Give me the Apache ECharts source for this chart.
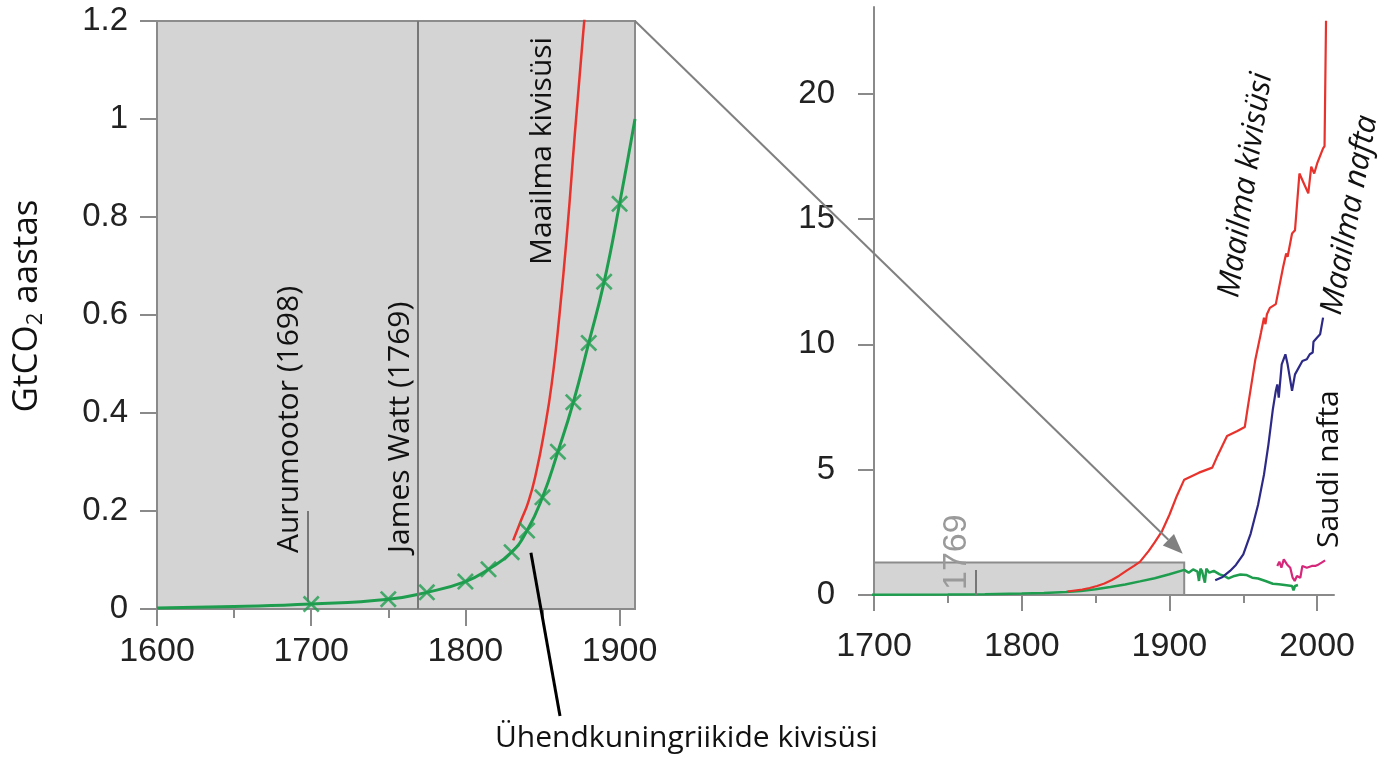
<!DOCTYPE html>
<html><head><meta charset="utf-8">
<script src="https://cdn.jsdelivr.net/npm/echarts@6/dist/echarts.min.js"></script>
<style>html,body{margin:0;padding:0;background:#fff}#c{width:1400px;height:782px}</style>
</head><body><div id="c"></div>
<script>
// ---- data (GtCO2 per year) ----
const ukCoalEarly = [[1600,0.002],[1650,0.005],[1700,0.010],[1750,0.020],[1775,0.034],[1800,0.056],[1815,0.081],[1830,0.116],[1840,0.160],[1850,0.228],[1860,0.321],[1870,0.422],[1880,0.543],[1890,0.668],[1900,0.827],[1910,1.0]];
const ukMarkerYears = [1700,1750,1775,1800,1815,1830,1840,1850,1860,1870,1880,1890,1900];
const ukCoalLate = [[1913,0.89],[1916,1.02],[1919,0.93],[1920,0.56],[1921,1.05],[1922,0.96],[1924,0.49],[1925,1.05],[1927,0.89],[1930,0.96],[1934,0.82],[1937,0.76],[1940,0.66],[1944,0.76],[1948,0.82],[1952,0.80],[1956,0.69],[1960,0.66],[1965,0.56],[1970,0.45],[1974,0.43],[1978,0.40],[1983,0.36],[1984,0.19],[1985,0.36],[1987,0.40]];
const worldCoal = [[1831,0.14],[1836,0.18],[1841,0.22],[1846,0.28],[1851,0.36],[1856,0.46],[1861,0.6],[1866,0.77],[1871,0.97],[1876,1.16],[1880,1.32],[1886,1.76],[1890,2.1],[1895,2.55],[1900,3.2],[1905,3.95],[1910,4.6],[1920,4.88],[1929,5.08],[1932,5.48],[1939,6.34],[1946,6.54],[1951,6.70],[1953,7.47],[1958,9.34],[1962,10.47],[1964,11.06],[1965,10.8],[1966,11.2],[1968,11.45],[1972,11.6],[1977,13.09],[1979,13.62],[1980,13.49],[1983,14.42],[1985,14.55],[1988,16.81],[1992,16.28],[1994,16.02],[1996,17.08],[1998,16.81],[2000,17.21],[2004,17.81],[2005,17.9],[2006,22.9]];
const worldOil = [[1931,0.585],[1936,0.72],[1941,0.96],[1945,1.2],[1950,1.62],[1955,2.45],[1960,3.6],[1964,4.8],[1967,6.0],[1970,7.4],[1972,8.14],[1973,8.4],[1974,7.87],[1976,9.2],[1978.5,9.6],[1980,9.2],[1983,8.14],[1985,8.8],[1990,9.33],[1993,9.4],[1995,9.6],[1997,9.67],[1997.5,10.1],[2000,10.27],[2002,10.4],[2004,11.06]];
const saudiOil = [[1973,1.16],[1974.4,1.33],[1975.8,1.09],[1977.4,1.42],[1979.6,1.22],[1981.8,1.09],[1983.4,0.69],[1984.8,0.56],[1986.3,0.76],[1988.6,0.69],[1990,1.16],[1993,1.09],[1996.4,1.16],[1998.7,1.16],[2001,1.22],[2003,1.29],[2005.4,1.38]];
// axes
const leftXTicks = [1600,1700,1800,1900];
const leftXMinor = [1650,1750,1850];
const leftYTicks = [0,0.2,0.4,0.6,0.8,1,1.2];
const rightXTicks = [1700,1800,1900,2000];
const rightXMinor = [1750,1850,1950];
const rightYTicks = [0,5,10,15,20];
// annotations
const steamEngineYear = 1698;
const wattYear = 1769;
const zoomBoxYears = [1700,1910];
const zoomBoxValues = [0,1.3];

const GREEN = '#1f9d4f', RED = '#e8322c', BLUE = '#2d2a87', MAG = '#d6287b', AX = '#8a8a8a';
const TICKFONT = 'Liberation Sans';
const ANNFONT = '"Open Sans", "Noto Sans", sans-serif';
const fmt = v => String(v);

function xMain(grid, min, max, ticks, margin, len) {
  return {type:'value', gridIndex:grid, min, max, position:'bottom',
    axisLine:{show:true, onZero:false, lineStyle:{color:AX, width:2}},
    axisTick:{show:true, customValues:ticks, length:len, lineStyle:{color:AX, width:2}},
    axisLabel:{customValues:ticks, margin, formatter:fmt, fontSize:34, fontFamily:TICKFONT, color:'#222'},
    splitLine:{show:false}};
}
function xMinor(grid, min, max, ticks, len) {
  return {type:'value', gridIndex:grid, min, max, position:'bottom',
    axisLine:{show:false},
    axisTick:{show:true, customValues:ticks, length:len, lineStyle:{color:AX, width:2}},
    axisLabel:{show:false}, splitLine:{show:false}};
}
function yMain(grid, min, max, ticks, margin, len) {
  return {type:'value', gridIndex:grid, min, max, position:'left',
    axisLine:{show:true, onZero:false, lineStyle:{color:AX, width:2}},
    axisTick:{show:true, customValues:ticks, length:len, lineStyle:{color:AX, width:2}},
    axisLabel:{customValues:ticks, margin, formatter:fmt, fontSize:33, fontFamily:TICKFONT, color:'#222'},
    splitLine:{show:false}};
}

const XSYM = 'path://M0,2.2L2.2,0L10,7.8L17.8,0L20,2.2L12.2,10L20,17.8L17.8,20L10,12.2L2.2,20L0,17.8L7.8,10Z';

const chart = echarts.init(document.getElementById('c'), null, {renderer:'canvas'});
chart.setOption({
  animation:false,
  backgroundColor:'#fff',
  grid:[
    {left:157, top:21, width:478, height:588, show:true, backgroundColor:'#d4d4d4', borderColor:'#8c8c8c', borderWidth:2},
    {left:874, top:7, width:460, height:588}
  ],
  xAxis:[
    xMain(0, 1600, 1910, leftXTicks, 26, 17),
    xMinor(0, 1600, 1910, leftXMinor, 9),
    xMain(1, 1700, 2011.4, rightXTicks, 35, 16),
    xMinor(1, 1700, 2011.4, rightXMinor, 8)
  ],
  yAxis:[
    yMain(0, 0, 1.2, leftYTicks, 29, 17),
    yMain(1, 0, 23.45, rightYTicks, 39, 16)
  ],
  series:[
    {type:'line', xAxisIndex:0, yAxisIndex:0, data:[], z:2, silent:true,
      markLine:{silent:true, symbol:['none','none'], label:{show:false},
        lineStyle:{color:'#777', width:2, type:'solid'},
        data:[
          [{coord:[wattYear,0]},{coord:[wattYear,1.2]}],
          [{coord:[steamEngineYear,0.015]},{coord:[steamEngineYear,0.2]}]
        ]}},
    {type:'line', xAxisIndex:0, yAxisIndex:0, data:worldCoal.filter(p=>p[0]<=1890), smooth:0.5, showSymbol:false, clip:true, z:3,
      lineStyle:{color:RED, width:2.5}},
    {type:'line', xAxisIndex:0, yAxisIndex:0, data:ukCoalEarly, smooth:0.5, showSymbol:false, z:4,
      lineStyle:{color:GREEN, width:3}},
    {type:'scatter', xAxisIndex:0, yAxisIndex:0, data:ukCoalEarly.filter(p=>ukMarkerYears.includes(p[0])), symbol:XSYM, symbolSize:17, z:5,
      itemStyle:{color:GREEN}},
    {type:'line', xAxisIndex:2, yAxisIndex:1, data:[], z:1, silent:true,
      markArea:{silent:true, itemStyle:{color:'#d4d4d4', borderColor:'#8c8c8c', borderWidth:2},
        data:[[{coord:[zoomBoxYears[0],zoomBoxValues[0]]},{coord:[zoomBoxYears[1],zoomBoxValues[1]]}]]},
      markLine:{silent:true, symbol:['none','none'], label:{show:false},
        lineStyle:{color:'#777', width:2, type:'solid'},
        data:[[{coord:[wattYear,0]},{coord:[wattYear,1.0]}]]}},
    {type:'line', xAxisIndex:2, yAxisIndex:1, data:ukCoalEarly.concat(ukCoalLate), showSymbol:false, z:3,
      lineStyle:{color:GREEN, width:2.5}},
    {type:'line', xAxisIndex:2, yAxisIndex:1, data:worldCoal, showSymbol:false, z:3,
      lineStyle:{color:RED, width:2.2}},
    {type:'line', xAxisIndex:2, yAxisIndex:1, data:worldOil, showSymbol:false, z:3,
      lineStyle:{color:BLUE, width:2.2}},
    {type:'line', xAxisIndex:2, yAxisIndex:1, data:saudiOil, showSymbol:false, z:3,
      lineStyle:{color:MAG, width:2.2}}
  ]
});

const L = v => chart.convertToPixel({xAxisIndex:0, yAxisIndex:0}, v);
const R = v => chart.convertToPixel({xAxisIndex:2, yAxisIndex:1}, v);

const a0 = L([zoomBoxYears[1], 1.2]);
const a1 = R([1909, 1.65]);
const dx = a1[0]-a0[0], dy = a1[1]-a0[1], dl = Math.hypot(dx,dy);
const ux = dx/dl, uy = dy/dl, hl = 20, hw = 8;
const base = [a1[0]-ux*hl, a1[1]-uy*hl];
const p0 = L([1842.5, 0.115]);

function vtext(x, y, text, opts) {
  return Object.assign({type:'text', x, y, rotation:Math.PI/2, z:50,
    style:Object.assign({text, font:'30px '+ANNFONT, fill:'#111', align:'left', verticalAlign:'middle'}, opts||{})});
}

chart.setOption({graphic:[
  {type:'line', z:40, shape:{x1:a0[0], y1:a0[1], x2:base[0], y2:base[1]}, style:{stroke:'#808080', lineWidth:2}},
  {type:'polygon', z:40, shape:{points:[a1, [base[0]+uy*hw, base[1]-ux*hw], [base[0]-uy*hw, base[1]+ux*hw]]}, style:{fill:'#808080'}},
  {type:'line', z:40, shape:{x1:p0[0], y1:p0[1], x2:560, y2:716}, style:{stroke:'#000', lineWidth:3}},
  {type:'text', x:27, y:306, rotation:Math.PI/2, z:50, style:{
    text:'{a|GtCO}{b|2}{a| aastas}', align:'center', verticalAlign:'middle', fill:'#111',
    rich:{a:{fontSize:35, fontFamily:ANNFONT, lineHeight:40, fill:'#111'}, b:{fontSize:22, fontFamily:ANNFONT, lineHeight:12, verticalAlign:'bottom', fill:'#111'}}}},
  vtext(289, 553, 'Aurumootor (1698)'),
  vtext(400, 553, 'James Watt (1769)'),
  vtext(542, 265, 'Maailma kivisüsi'),
  {type:'text', x:1246, y:185, rotation:81.5*Math.PI/180, z:50, style:{text:'Maailma kivisüsi', font:'italic 31px '+ANNFONT, fill:'#111', align:'center', verticalAlign:'middle'}},
  {type:'text', x:1350, y:215, rotation:79.7*Math.PI/180, z:50, style:{text:'Maailma nafta', font:'italic 31px '+ANNFONT, fill:'#111', align:'center', verticalAlign:'middle'}},
  vtext(1329, 548, 'Saudi nafta'),
  vtext(957, 590, '1769', {font:'34px '+TICKFONT, fill:'#9a9a9a'}),
  {type:'text', x:495, y:738, z:50, style:{text:'Ühendkuningriikide kivisüsi', font:'30px '+ANNFONT, fill:'#111', align:'left', verticalAlign:'middle'}}
]});
</script></body></html>
